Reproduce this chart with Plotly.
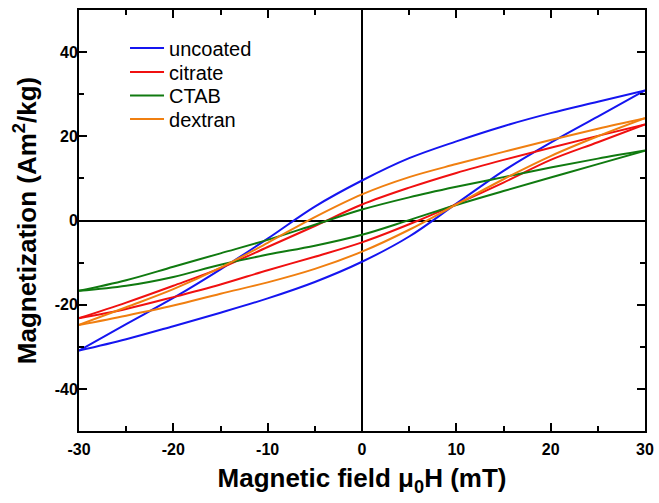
import plotly.graph_objects as go

# Applied field (mT): descending sweep (+30 -> -30) and ascending sweep (-30 -> +30)
field_desc = [30, 25, 20, 15, 10, 5, 0, -5, -10, -15, -20, -25, -30]
field_asc = [-30, -25, -20, -15, -10, -5, 0, 5, 10, 15, 20, 25, 30]

# Magnetization (Am^2/kg) along the descending branch
uncoated_desc = [30.9, 28.2, 25.5, 22.4, 18.8, 14.8, 9.5, 3.3, -4.3, -11.6, -18.4, -24.6, -30.9]
citrate_desc = [22.8, 20.1, 17.3, 14.4, 11.3, 7.8, 3.8, -1.3, -6.3, -11.3, -15.5, -19.5, -23.2]
ctab_desc = [16.6, 14.7, 12.6, 10.3, 8.0, 5.5, 2.6, -1.0, -4.6, -7.8, -11.0, -14.2, -16.7]
dextran_desc = [24.3, 21.8, 19.1, 16.3, 13.4, 10.3, 6.2, 0.8, -5.3, -11.2, -16.3, -20.6, -24.8]

# Magnetization (Am^2/kg) along the ascending branch
uncoated_asc = [-30.9, -28.2, -25.1, -21.9, -18.5, -14.6, -9.8, -3.8, 4.0, 11.8, 18.5, 24.7, 30.9]
citrate_asc = [-23.2, -21.0, -18.2, -15.2, -11.8, -8.6, -5.2, -0.9, 3.9, 9.0, 14.4, 18.6, 22.8]
ctab_asc = [-16.7, -15.5, -13.4, -10.5, -8.1, -6.0, -3.4, 0.1, 3.7, 7.0, 10.2, 13.4, 16.6]
dextran_asc = [-24.8, -22.6, -20.2, -17.4, -14.7, -11.5, -7.4, -2.2, 3.8, 9.8, 15.3, 20.0, 24.3]

samples = ["uncoated", "citrate", "CTAB", "dextran"]
colors = ["#1515F0", "#F01010", "#107A10", "#F07F10"]
desc_values = [uncoated_desc, citrate_desc, ctab_desc, dextran_desc]
asc_values = [uncoated_asc, citrate_asc, ctab_asc, dextran_asc]

x_ticks = [-30, -20, -10, 0, 10, 20, 30]
y_ticks = [-40, -20, 0, 20, 40]

FONT = "Liberation Sans, Arial, sans-serif"

# one single-entry legend per sample so the rows can be spaced freely
legend_ids = ["legend", "legend2", "legend3", "legend4"]
legend_rows_y = [0.9097, 0.8527, 0.7969, 0.7411]

fig = go.Figure()
for name, color, yd, ya, lid in zip(samples, colors, desc_values, asc_values, legend_ids):
    fig.add_trace(go.Scatter(
        x=field_desc, y=yd, mode="lines", name=name, legendgroup=name, legend=lid,
        line=dict(color=color, width=2, shape="spline", smoothing=1.0),
    ))
    fig.add_trace(go.Scatter(
        x=field_asc, y=ya, mode="lines", name=name, legendgroup=name, legend=lid,
        showlegend=False,
        line=dict(color=color, width=2, shape="spline", smoothing=1.0),
    ))

axis_common = dict(
    showline=True, linecolor="black", linewidth=2, mirror="allticks",
    ticks="inside", ticklen=8, tickwidth=2, tickcolor="black",
    showgrid=False, zeroline=True, zerolinecolor="black", zerolinewidth=2,
    tickfont=dict(family=FONT, size=16, color="black", weight="bold"),
)

fig.update_xaxes(
    range=[-30, 30], tickvals=x_ticks, ticktext=[str(v) for v in x_ticks],
    ticklabelstandoff=3,
    minor=dict(ticks="inside", ticklen=5, tickwidth=2, tickcolor="black", dtick=5, tick0=0),
    title=dict(text="Magnetic field μ<sub>0</sub>H (mT)", standoff=12,
               font=dict(family=FONT, size=26, color="black", weight="bold")),
    **axis_common,
)
fig.update_yaxes(
    range=[-50, 50], tickvals=y_ticks, ticktext=[str(v) for v in y_ticks],
    ticklabelstandoff=-4,
    minor=dict(ticks="inside", ticklen=5, tickwidth=2, tickcolor="black", dtick=10, tick0=0),
    title=dict(text="Magnetization (Am<sup>2</sup>/kg)", standoff=11,
               font=dict(family=FONT, size=26, color="black", weight="bold")),
    **axis_common,
)

legend_style = dict(
    x=0.0813, xanchor="left", yanchor="middle",
    bgcolor="rgba(0,0,0,0)", borderwidth=0, itemwidth=34,
    font=dict(family=FONT, size=20, color="black"),
)

fig.update_layout(
    width=659, height=503,
    margin=dict(l=79, r=14, t=10, b=72, autoexpand=False),
    paper_bgcolor="white", plot_bgcolor="white",
    showlegend=True,
    legend=dict(y=legend_rows_y[0], **legend_style),
    legend2=dict(y=legend_rows_y[1], **legend_style),
    legend3=dict(y=legend_rows_y[2], **legend_style),
    legend4=dict(y=legend_rows_y[3], **legend_style),
)

fig.write_html("out.html")
